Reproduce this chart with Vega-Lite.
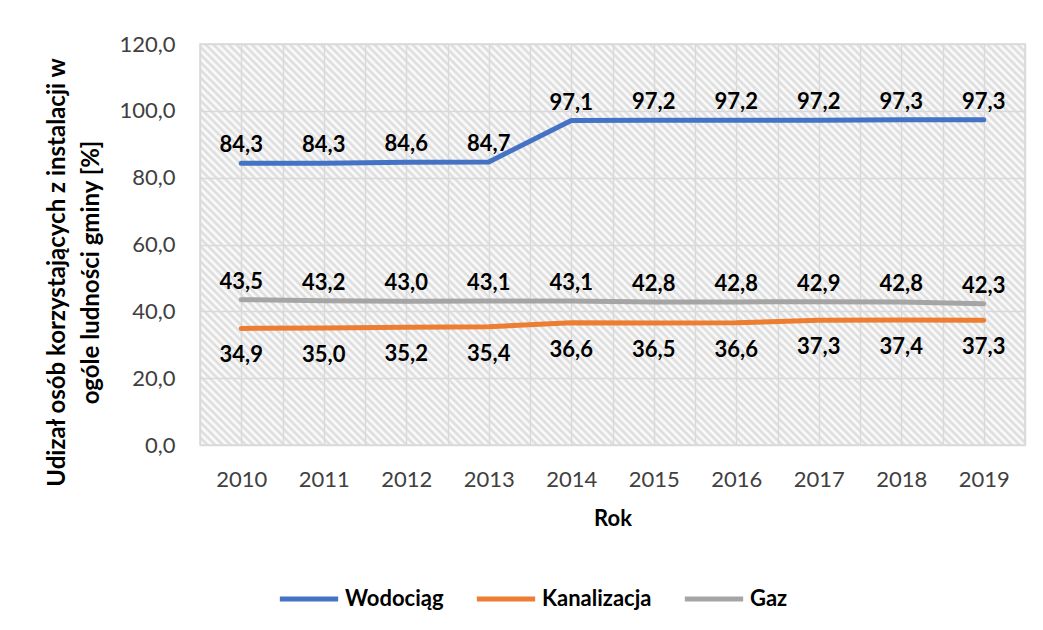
{
  "$schema": "https://vega.github.io/schema/vega-lite/v6.json",
  "width": 825,
  "height": 401,
  "autosize": "none",
  "padding": {"left": 200, "top": 44, "right": 18, "bottom": 185},
  "background": "white",
  "config": {
    "locale": {"number": {"decimal": ",", "thousands": "\u00a0", "grouping": [3], "currency": ["", " zł"]}},
    "view": {
      "stroke": "#d9d9d9",
      "strokeWidth": 1.5,
      "fill": {
        "gradient": "linear",
        "x1": 0, "y1": 1, "x2": 1.202, "y2": 0.416,
        "stops": [
          {"offset":0,"color":"#d9d9d9"},{"offset":0.003125,"color":"#fff"},{"offset":0.00625,"color":"#d9d9d9"},{"offset":0.009375,"color":"#fff"},{"offset":0.0125,"color":"#d9d9d9"},{"offset":0.015625,"color":"#fff"},{"offset":0.01875,"color":"#d9d9d9"},{"offset":0.021875,"color":"#fff"},
          {"offset":0.025,"color":"#d9d9d9"},{"offset":0.028125,"color":"#fff"},{"offset":0.03125,"color":"#d9d9d9"},{"offset":0.034375,"color":"#fff"},{"offset":0.0375,"color":"#d9d9d9"},{"offset":0.040625,"color":"#fff"},{"offset":0.04375,"color":"#d9d9d9"},{"offset":0.046875,"color":"#fff"},
          {"offset":0.05,"color":"#d9d9d9"},{"offset":0.053125,"color":"#fff"},{"offset":0.05625,"color":"#d9d9d9"},{"offset":0.059375,"color":"#fff"},{"offset":0.0625,"color":"#d9d9d9"},{"offset":0.065625,"color":"#fff"},{"offset":0.06875,"color":"#d9d9d9"},{"offset":0.071875,"color":"#fff"},
          {"offset":0.075,"color":"#d9d9d9"},{"offset":0.078125,"color":"#fff"},{"offset":0.08125,"color":"#d9d9d9"},{"offset":0.084375,"color":"#fff"},{"offset":0.0875,"color":"#d9d9d9"},{"offset":0.090625,"color":"#fff"},{"offset":0.09375,"color":"#d9d9d9"},{"offset":0.096875,"color":"#fff"},
          {"offset":0.1,"color":"#d9d9d9"},{"offset":0.103125,"color":"#fff"},{"offset":0.10625,"color":"#d9d9d9"},{"offset":0.109375,"color":"#fff"},{"offset":0.1125,"color":"#d9d9d9"},{"offset":0.115625,"color":"#fff"},{"offset":0.11875,"color":"#d9d9d9"},{"offset":0.121875,"color":"#fff"},
          {"offset":0.125,"color":"#d9d9d9"},{"offset":0.128125,"color":"#fff"},{"offset":0.13125,"color":"#d9d9d9"},{"offset":0.134375,"color":"#fff"},{"offset":0.1375,"color":"#d9d9d9"},{"offset":0.140625,"color":"#fff"},{"offset":0.14375,"color":"#d9d9d9"},{"offset":0.146875,"color":"#fff"},
          {"offset":0.15,"color":"#d9d9d9"},{"offset":0.153125,"color":"#fff"},{"offset":0.15625,"color":"#d9d9d9"},{"offset":0.159375,"color":"#fff"},{"offset":0.1625,"color":"#d9d9d9"},{"offset":0.165625,"color":"#fff"},{"offset":0.16875,"color":"#d9d9d9"},{"offset":0.171875,"color":"#fff"},
          {"offset":0.175,"color":"#d9d9d9"},{"offset":0.178125,"color":"#fff"},{"offset":0.18125,"color":"#d9d9d9"},{"offset":0.184375,"color":"#fff"},{"offset":0.1875,"color":"#d9d9d9"},{"offset":0.190625,"color":"#fff"},{"offset":0.19375,"color":"#d9d9d9"},{"offset":0.196875,"color":"#fff"},
          {"offset":0.2,"color":"#d9d9d9"},{"offset":0.203125,"color":"#fff"},{"offset":0.20625,"color":"#d9d9d9"},{"offset":0.209375,"color":"#fff"},{"offset":0.2125,"color":"#d9d9d9"},{"offset":0.215625,"color":"#fff"},{"offset":0.21875,"color":"#d9d9d9"},{"offset":0.221875,"color":"#fff"},
          {"offset":0.225,"color":"#d9d9d9"},{"offset":0.228125,"color":"#fff"},{"offset":0.23125,"color":"#d9d9d9"},{"offset":0.234375,"color":"#fff"},{"offset":0.2375,"color":"#d9d9d9"},{"offset":0.240625,"color":"#fff"},{"offset":0.24375,"color":"#d9d9d9"},{"offset":0.246875,"color":"#fff"},
          {"offset":0.25,"color":"#d9d9d9"},{"offset":0.253125,"color":"#fff"},{"offset":0.25625,"color":"#d9d9d9"},{"offset":0.259375,"color":"#fff"},{"offset":0.2625,"color":"#d9d9d9"},{"offset":0.265625,"color":"#fff"},{"offset":0.26875,"color":"#d9d9d9"},{"offset":0.271875,"color":"#fff"},
          {"offset":0.275,"color":"#d9d9d9"},{"offset":0.278125,"color":"#fff"},{"offset":0.28125,"color":"#d9d9d9"},{"offset":0.284375,"color":"#fff"},{"offset":0.2875,"color":"#d9d9d9"},{"offset":0.290625,"color":"#fff"},{"offset":0.29375,"color":"#d9d9d9"},{"offset":0.296875,"color":"#fff"},
          {"offset":0.3,"color":"#d9d9d9"},{"offset":0.303125,"color":"#fff"},{"offset":0.30625,"color":"#d9d9d9"},{"offset":0.309375,"color":"#fff"},{"offset":0.3125,"color":"#d9d9d9"},{"offset":0.315625,"color":"#fff"},{"offset":0.31875,"color":"#d9d9d9"},{"offset":0.321875,"color":"#fff"},
          {"offset":0.325,"color":"#d9d9d9"},{"offset":0.328125,"color":"#fff"},{"offset":0.33125,"color":"#d9d9d9"},{"offset":0.334375,"color":"#fff"},{"offset":0.3375,"color":"#d9d9d9"},{"offset":0.340625,"color":"#fff"},{"offset":0.34375,"color":"#d9d9d9"},{"offset":0.346875,"color":"#fff"},
          {"offset":0.35,"color":"#d9d9d9"},{"offset":0.353125,"color":"#fff"},{"offset":0.35625,"color":"#d9d9d9"},{"offset":0.359375,"color":"#fff"},{"offset":0.3625,"color":"#d9d9d9"},{"offset":0.365625,"color":"#fff"},{"offset":0.36875,"color":"#d9d9d9"},{"offset":0.371875,"color":"#fff"},
          {"offset":0.375,"color":"#d9d9d9"},{"offset":0.378125,"color":"#fff"},{"offset":0.38125,"color":"#d9d9d9"},{"offset":0.384375,"color":"#fff"},{"offset":0.3875,"color":"#d9d9d9"},{"offset":0.390625,"color":"#fff"},{"offset":0.39375,"color":"#d9d9d9"},{"offset":0.396875,"color":"#fff"},
          {"offset":0.4,"color":"#d9d9d9"},{"offset":0.403125,"color":"#fff"},{"offset":0.40625,"color":"#d9d9d9"},{"offset":0.409375,"color":"#fff"},{"offset":0.4125,"color":"#d9d9d9"},{"offset":0.415625,"color":"#fff"},{"offset":0.41875,"color":"#d9d9d9"},{"offset":0.421875,"color":"#fff"},
          {"offset":0.425,"color":"#d9d9d9"},{"offset":0.428125,"color":"#fff"},{"offset":0.43125,"color":"#d9d9d9"},{"offset":0.434375,"color":"#fff"},{"offset":0.4375,"color":"#d9d9d9"},{"offset":0.440625,"color":"#fff"},{"offset":0.44375,"color":"#d9d9d9"},{"offset":0.446875,"color":"#fff"},
          {"offset":0.45,"color":"#d9d9d9"},{"offset":0.453125,"color":"#fff"},{"offset":0.45625,"color":"#d9d9d9"},{"offset":0.459375,"color":"#fff"},{"offset":0.4625,"color":"#d9d9d9"},{"offset":0.465625,"color":"#fff"},{"offset":0.46875,"color":"#d9d9d9"},{"offset":0.471875,"color":"#fff"},
          {"offset":0.475,"color":"#d9d9d9"},{"offset":0.478125,"color":"#fff"},{"offset":0.48125,"color":"#d9d9d9"},{"offset":0.484375,"color":"#fff"},{"offset":0.4875,"color":"#d9d9d9"},{"offset":0.490625,"color":"#fff"},{"offset":0.49375,"color":"#d9d9d9"},{"offset":0.496875,"color":"#fff"},
          {"offset":0.5,"color":"#d9d9d9"},{"offset":0.503125,"color":"#fff"},{"offset":0.50625,"color":"#d9d9d9"},{"offset":0.509375,"color":"#fff"},{"offset":0.5125,"color":"#d9d9d9"},{"offset":0.515625,"color":"#fff"},{"offset":0.51875,"color":"#d9d9d9"},{"offset":0.521875,"color":"#fff"},
          {"offset":0.525,"color":"#d9d9d9"},{"offset":0.528125,"color":"#fff"},{"offset":0.53125,"color":"#d9d9d9"},{"offset":0.534375,"color":"#fff"},{"offset":0.5375,"color":"#d9d9d9"},{"offset":0.540625,"color":"#fff"},{"offset":0.54375,"color":"#d9d9d9"},{"offset":0.546875,"color":"#fff"},
          {"offset":0.55,"color":"#d9d9d9"},{"offset":0.553125,"color":"#fff"},{"offset":0.55625,"color":"#d9d9d9"},{"offset":0.559375,"color":"#fff"},{"offset":0.5625,"color":"#d9d9d9"},{"offset":0.565625,"color":"#fff"},{"offset":0.56875,"color":"#d9d9d9"},{"offset":0.571875,"color":"#fff"},
          {"offset":0.575,"color":"#d9d9d9"},{"offset":0.578125,"color":"#fff"},{"offset":0.58125,"color":"#d9d9d9"},{"offset":0.584375,"color":"#fff"},{"offset":0.5875,"color":"#d9d9d9"},{"offset":0.590625,"color":"#fff"},{"offset":0.59375,"color":"#d9d9d9"},{"offset":0.596875,"color":"#fff"},
          {"offset":0.6,"color":"#d9d9d9"},{"offset":0.603125,"color":"#fff"},{"offset":0.60625,"color":"#d9d9d9"},{"offset":0.609375,"color":"#fff"},{"offset":0.6125,"color":"#d9d9d9"},{"offset":0.615625,"color":"#fff"},{"offset":0.61875,"color":"#d9d9d9"},{"offset":0.621875,"color":"#fff"},
          {"offset":0.625,"color":"#d9d9d9"},{"offset":0.628125,"color":"#fff"},{"offset":0.63125,"color":"#d9d9d9"},{"offset":0.634375,"color":"#fff"},{"offset":0.6375,"color":"#d9d9d9"},{"offset":0.640625,"color":"#fff"},{"offset":0.64375,"color":"#d9d9d9"},{"offset":0.646875,"color":"#fff"},
          {"offset":0.65,"color":"#d9d9d9"},{"offset":0.653125,"color":"#fff"},{"offset":0.65625,"color":"#d9d9d9"},{"offset":0.659375,"color":"#fff"},{"offset":0.6625,"color":"#d9d9d9"},{"offset":0.665625,"color":"#fff"},{"offset":0.66875,"color":"#d9d9d9"},{"offset":0.671875,"color":"#fff"},
          {"offset":0.675,"color":"#d9d9d9"},{"offset":0.678125,"color":"#fff"},{"offset":0.68125,"color":"#d9d9d9"},{"offset":0.684375,"color":"#fff"},{"offset":0.6875,"color":"#d9d9d9"},{"offset":0.690625,"color":"#fff"},{"offset":0.69375,"color":"#d9d9d9"},{"offset":0.696875,"color":"#fff"},
          {"offset":0.7,"color":"#d9d9d9"},{"offset":0.703125,"color":"#fff"},{"offset":0.70625,"color":"#d9d9d9"},{"offset":0.709375,"color":"#fff"},{"offset":0.7125,"color":"#d9d9d9"},{"offset":0.715625,"color":"#fff"},{"offset":0.71875,"color":"#d9d9d9"},{"offset":0.721875,"color":"#fff"},
          {"offset":0.725,"color":"#d9d9d9"},{"offset":0.728125,"color":"#fff"},{"offset":0.73125,"color":"#d9d9d9"},{"offset":0.734375,"color":"#fff"},{"offset":0.7375,"color":"#d9d9d9"},{"offset":0.740625,"color":"#fff"},{"offset":0.74375,"color":"#d9d9d9"},{"offset":0.746875,"color":"#fff"},
          {"offset":0.75,"color":"#d9d9d9"},{"offset":0.753125,"color":"#fff"},{"offset":0.75625,"color":"#d9d9d9"},{"offset":0.759375,"color":"#fff"},{"offset":0.7625,"color":"#d9d9d9"},{"offset":0.765625,"color":"#fff"},{"offset":0.76875,"color":"#d9d9d9"},{"offset":0.771875,"color":"#fff"},
          {"offset":0.775,"color":"#d9d9d9"},{"offset":0.778125,"color":"#fff"},{"offset":0.78125,"color":"#d9d9d9"},{"offset":0.784375,"color":"#fff"},{"offset":0.7875,"color":"#d9d9d9"},{"offset":0.790625,"color":"#fff"},{"offset":0.79375,"color":"#d9d9d9"},{"offset":0.796875,"color":"#fff"},
          {"offset":0.8,"color":"#d9d9d9"},{"offset":0.803125,"color":"#fff"},{"offset":0.80625,"color":"#d9d9d9"},{"offset":0.809375,"color":"#fff"},{"offset":0.8125,"color":"#d9d9d9"},{"offset":0.815625,"color":"#fff"},{"offset":0.81875,"color":"#d9d9d9"},{"offset":0.821875,"color":"#fff"},
          {"offset":0.825,"color":"#d9d9d9"},{"offset":0.828125,"color":"#fff"},{"offset":0.83125,"color":"#d9d9d9"},{"offset":0.834375,"color":"#fff"},{"offset":0.8375,"color":"#d9d9d9"},{"offset":0.840625,"color":"#fff"},{"offset":0.84375,"color":"#d9d9d9"},{"offset":0.846875,"color":"#fff"},
          {"offset":0.85,"color":"#d9d9d9"},{"offset":0.853125,"color":"#fff"},{"offset":0.85625,"color":"#d9d9d9"},{"offset":0.859375,"color":"#fff"},{"offset":0.8625,"color":"#d9d9d9"},{"offset":0.865625,"color":"#fff"},{"offset":0.86875,"color":"#d9d9d9"},{"offset":0.871875,"color":"#fff"},
          {"offset":0.875,"color":"#d9d9d9"},{"offset":0.878125,"color":"#fff"},{"offset":0.88125,"color":"#d9d9d9"},{"offset":0.884375,"color":"#fff"},{"offset":0.8875,"color":"#d9d9d9"},{"offset":0.890625,"color":"#fff"},{"offset":0.89375,"color":"#d9d9d9"},{"offset":0.896875,"color":"#fff"},
          {"offset":0.9,"color":"#d9d9d9"},{"offset":0.903125,"color":"#fff"},{"offset":0.90625,"color":"#d9d9d9"},{"offset":0.909375,"color":"#fff"},{"offset":0.9125,"color":"#d9d9d9"},{"offset":0.915625,"color":"#fff"},{"offset":0.91875,"color":"#d9d9d9"},{"offset":0.921875,"color":"#fff"},
          {"offset":0.925,"color":"#d9d9d9"},{"offset":0.928125,"color":"#fff"},{"offset":0.93125,"color":"#d9d9d9"},{"offset":0.934375,"color":"#fff"},{"offset":0.9375,"color":"#d9d9d9"},{"offset":0.940625,"color":"#fff"},{"offset":0.94375,"color":"#d9d9d9"},{"offset":0.946875,"color":"#fff"},
          {"offset":0.95,"color":"#d9d9d9"},{"offset":0.953125,"color":"#fff"},{"offset":0.95625,"color":"#d9d9d9"},{"offset":0.959375,"color":"#fff"},{"offset":0.9625,"color":"#d9d9d9"},{"offset":0.965625,"color":"#fff"},{"offset":0.96875,"color":"#d9d9d9"},{"offset":0.971875,"color":"#fff"},
          {"offset":0.975,"color":"#d9d9d9"},{"offset":0.978125,"color":"#fff"},{"offset":0.98125,"color":"#d9d9d9"},{"offset":0.984375,"color":"#fff"},{"offset":0.9875,"color":"#d9d9d9"},{"offset":0.990625,"color":"#fff"},{"offset":0.99375,"color":"#d9d9d9"},{"offset":0.996875,"color":"#fff"},
          {"offset":1,"color":"#d9d9d9"}
        ]
      }
    },
    "font": "Lato"
  },
  "data": {
    "values": [
      {"Rok": 2010, "Seria": "Wodociąg", "Wartosc": 84.3},
      {"Rok": 2011, "Seria": "Wodociąg", "Wartosc": 84.3},
      {"Rok": 2012, "Seria": "Wodociąg", "Wartosc": 84.6},
      {"Rok": 2013, "Seria": "Wodociąg", "Wartosc": 84.7},
      {"Rok": 2014, "Seria": "Wodociąg", "Wartosc": 97.1},
      {"Rok": 2015, "Seria": "Wodociąg", "Wartosc": 97.2},
      {"Rok": 2016, "Seria": "Wodociąg", "Wartosc": 97.2},
      {"Rok": 2017, "Seria": "Wodociąg", "Wartosc": 97.2},
      {"Rok": 2018, "Seria": "Wodociąg", "Wartosc": 97.3},
      {"Rok": 2019, "Seria": "Wodociąg", "Wartosc": 97.3},
      {"Rok": 2010, "Seria": "Kanalizacja", "Wartosc": 34.9},
      {"Rok": 2011, "Seria": "Kanalizacja", "Wartosc": 35.0},
      {"Rok": 2012, "Seria": "Kanalizacja", "Wartosc": 35.2},
      {"Rok": 2013, "Seria": "Kanalizacja", "Wartosc": 35.4},
      {"Rok": 2014, "Seria": "Kanalizacja", "Wartosc": 36.6},
      {"Rok": 2015, "Seria": "Kanalizacja", "Wartosc": 36.5},
      {"Rok": 2016, "Seria": "Kanalizacja", "Wartosc": 36.6},
      {"Rok": 2017, "Seria": "Kanalizacja", "Wartosc": 37.3},
      {"Rok": 2018, "Seria": "Kanalizacja", "Wartosc": 37.4},
      {"Rok": 2019, "Seria": "Kanalizacja", "Wartosc": 37.3},
      {"Rok": 2010, "Seria": "Gaz", "Wartosc": 43.5},
      {"Rok": 2011, "Seria": "Gaz", "Wartosc": 43.2},
      {"Rok": 2012, "Seria": "Gaz", "Wartosc": 43.0},
      {"Rok": 2013, "Seria": "Gaz", "Wartosc": 43.1},
      {"Rok": 2014, "Seria": "Gaz", "Wartosc": 43.1},
      {"Rok": 2015, "Seria": "Gaz", "Wartosc": 42.8},
      {"Rok": 2016, "Seria": "Gaz", "Wartosc": 42.8},
      {"Rok": 2017, "Seria": "Gaz", "Wartosc": 42.9},
      {"Rok": 2018, "Seria": "Gaz", "Wartosc": 42.8},
      {"Rok": 2019, "Seria": "Gaz", "Wartosc": 42.3}
    ]
  },
  "encoding": {
    "x": {
      "field": "Rok",
      "type": "quantitative",
      "scale": {"domain": [2009.5, 2019.5], "nice": false, "zero": false},
      "axis": {
        "values": [2009.5, 2010, 2010.5, 2011, 2011.5, 2012, 2012.5, 2013, 2013.5, 2014, 2014.5, 2015, 2015.5, 2016, 2016.5, 2017, 2017.5, 2018, 2018.5, 2019, 2019.5],
        "tickCount": 100,
        "tickMinStep": 0.1,
        "labelExpr": "datum.value % 1 === 0 ? ('' + datum.value) : ''",
        "labelOverlap": false,
        "labelFlush": false,
        "grid": true,
        "gridColor": "#d9d9d9",
        "gridWidth": 1.5,
        "domain": false,
        "ticks": false,
        "labelPadding": 24,
        "labelFontSize": 22,
        "labelColor": "#404040",
        "title": "Rok",
        "titleFontSize": 22,
        "titleFontWeight": "bold",
        "titleColor": "#000000",
        "titlePadding": 18
      }
    },
    "y": {
      "field": "Wartosc",
      "type": "quantitative",
      "scale": {"domain": [0, 120], "nice": false},
      "axis": {
        "values": [0, 20, 40, 60, 80, 100, 120],
        "format": ".1f",
        "grid": true,
        "gridColor": "#d9d9d9",
        "gridWidth": 1.5,
        "domain": false,
        "ticks": false,
        "labelPadding": 25,
        "labelFontSize": 22,
        "labelColor": "#404040",
        "title": ["Udizał osób korzystających z instalacji w", "ogóle ludności gminy [%]"],
        "titleFontSize": 24,
        "titleFontWeight": "bold",
        "titleColor": "#000000",
        "titleLineHeight": 34,
        "titleBaseline": "middle",
        "titleAngle": 270,
        "titleX": -143,
        "titleY": 228
      }
    },
    "color": {
      "field": "Seria",
      "type": "nominal",
      "scale": {"domain": ["Wodociąg", "Kanalizacja", "Gaz"], "range": ["#4472C4", "#ED7D31", "#A5A5A5"]},
      "legend": {
        "title": null,
        "orient": "none",
        "direction": "horizontal",
        "legendX": 77,
        "legendY": 523,
        "symbolType": "stroke",
        "symbolSize": 3400,
        "symbolStrokeWidth": 5,
        "labelFontSize": 22,
        "labelFontWeight": "bold",
        "labelColor": "#000000",
        "labelOffset": 4,
        "columnPadding": 22
      }
    }
  },
  "layer": [
    {
      "mark": {"type": "line", "strokeWidth": 5, "strokeCap": "round", "strokeJoin": "round"}
    },
    {
      "transform": [{"filter": "datum.Seria !== 'Kanalizacja'"}],
      "mark": {"type": "text", "dy": -18, "fontSize": 22, "fontWeight": "bold", "color": "#000000"},
      "encoding": {
        "text": {"field": "Wartosc", "type": "quantitative", "format": ".1f"},
        "color": {"value": "#000000"}
      }
    },
    {
      "transform": [{"filter": "datum.Seria === 'Kanalizacja'"}],
      "mark": {"type": "text", "dy": 27, "fontSize": 22, "fontWeight": "bold", "color": "#000000"},
      "encoding": {
        "text": {"field": "Wartosc", "type": "quantitative", "format": ".1f"},
        "color": {"value": "#000000"}
      }
    }
  ]
}
